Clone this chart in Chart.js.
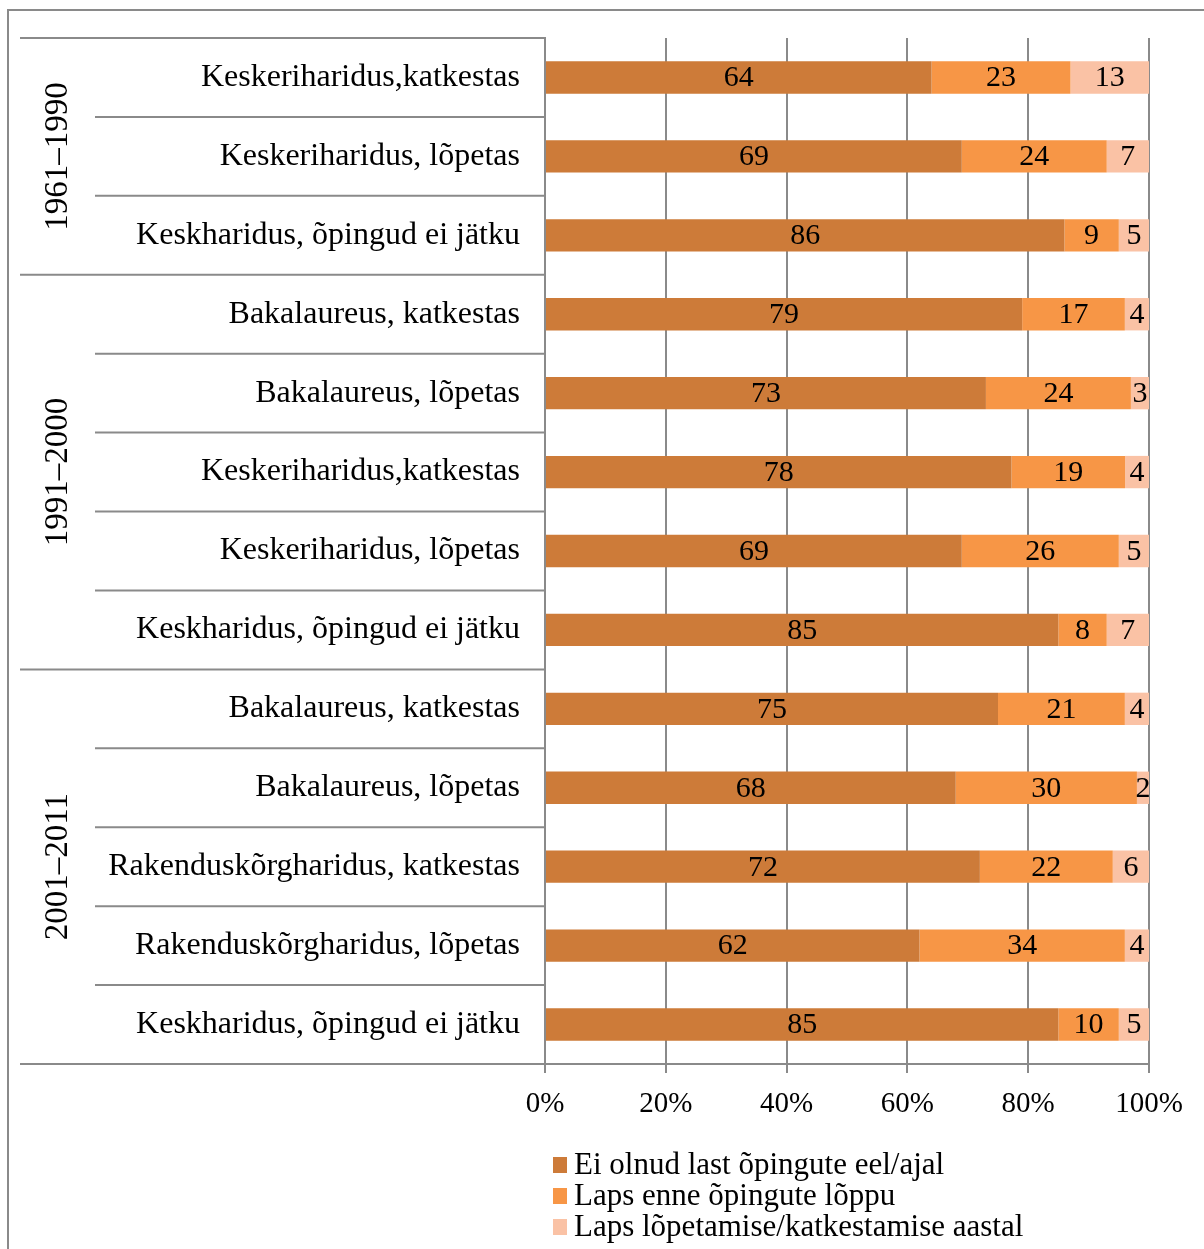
<!DOCTYPE html>
<html>
<head>
<meta charset="utf-8">
<script src="https://cdn.jsdelivr.net/npm/chart.js@4"></script>
<style>
  html, body { margin: 0; padding: 0; background: #fff; overflow: hidden; }
  #frame { position: absolute; left: 7px; top: 9px; width: 1300px; height: 1300px; border: 2px solid #8a8a8a; box-sizing: border-box; }
  #wrap { position: absolute; left: 0; top: 0; width: 1204px; height: 1249px; }
</style>
</head>
<body>
<div id="frame"></div>
<div id="wrap"><canvas id="chart" width="1204" height="1249"></canvas></div>
<script>
const groups = ['1961–1990', '1991–2000', '2001–2011'];
const groupSizes = [3, 5, 5];

const categories = [
  'Keskeriharidus,katkestas',
  'Keskeriharidus, lõpetas',
  'Keskharidus, õpingud ei jätku',
  'Bakalaureus, katkestas',
  'Bakalaureus, lõpetas',
  'Keskeriharidus,katkestas',
  'Keskeriharidus, lõpetas',
  'Keskharidus, õpingud ei jätku',
  'Bakalaureus, katkestas',
  'Bakalaureus, lõpetas',
  'Rakenduskõrgharidus, katkestas',
  'Rakenduskõrgharidus, lõpetas',
  'Keskharidus, õpingud ei jätku'
];

const seriesNames = [
  'Ei olnud last õpingute eel/ajal',
  'Laps enne õpingute lõppu',
  'Laps lõpetamise/katkestamise aastal'
];
const noChild = [64, 69, 86, 79, 73, 78, 69, 85, 75, 68, 72, 62, 85];
const childBefore = [23, 24, 9, 17, 24, 19, 26, 8, 21, 30, 22, 34, 10];
const childInYear = [13, 7, 5, 4, 3, 4, 5, 7, 4, 2, 6, 4, 5];
const xTicks = [0, 20, 40, 60, 80, 100];

const colors = ['#CD7B39', '#F79646', '#FAC2A5'];
const FONT = 'Liberation Serif';
const GRID = '#8a8a8a';

// 100% stacked: share of each row total
const totals = noChild.map((v, i) => v + childBefore[i] + childInYear[i]);
const share = arr => arr.map((v, i) => v / totals[i] * 100);
const raw = [noChild, childBefore, childInYear];

const labelPlugin = {
  id: 'extras',
  afterDatasetsDraw(chart) {
    const ctx = chart.ctx;
    ctx.save();
    ctx.fillStyle = '#000';
    ctx.font = '30px "' + FONT + '"';
    ctx.textAlign = 'center';
    ctx.textBaseline = 'middle';
    chart.data.datasets.forEach((ds, di) => {
      const meta = chart.getDatasetMeta(di);
      meta.data.forEach((bar, i) => {
        const cx = (bar.x + bar.base) / 2;
        ctx.fillText(String(raw[di][i]), cx, bar.y + 1);
      });
    });
    ctx.restore();
  },
  afterDraw(chart) {
    const ctx = chart.ctx;
    const y = chart.scales.y;
    const axisX = chart.chartArea.left;
    const n = categories.length;
    const bounds = [];
    bounds.push(chart.chartArea.top);
    for (let i = 0; i < n - 1; i++) {
      bounds.push((y.getPixelForValue(i) + y.getPixelForValue(i + 1)) / 2);
    }
    bounds.push(chart.chartArea.bottom);

    ctx.save();
    ctx.strokeStyle = GRID;
    ctx.lineWidth = 2;
    // group start indices
    const starts = [0];
    groupSizes.forEach((s, g) => starts.push(starts[g] + s));
    bounds.forEach((b, i) => {
      const isGroup = starts.includes(i);
      ctx.beginPath();
      ctx.moveTo(isGroup ? 20 : 95, b);
      ctx.lineTo(axisX, b);
      ctx.stroke();
    });

    // rotated group labels
    ctx.fillStyle = '#000';
    ctx.font = '33px "' + FONT + '"';
    ctx.textAlign = 'center';
    ctx.textBaseline = 'middle';
    groups.forEach((g, gi) => {
      const cy = (bounds[starts[gi]] + bounds[starts[gi + 1]]) / 2;
      ctx.save();
      ctx.translate(58, cy);
      ctx.rotate(-Math.PI / 2);
      ctx.fillText(g, 0, 0);
      ctx.restore();
    });

    // legend
    ctx.textAlign = 'left';
    ctx.font = '31px "' + FONT + '"';
    seriesNames.forEach((name, i) => {
      const cy = 1165 + i * 31;
      ctx.fillStyle = colors[i];
      ctx.fillRect(553, cy - 8, 14, 16);
      ctx.fillStyle = '#000';
      ctx.fillText(name, 574, cy + 1);
    });
    ctx.restore();
  }
};

new Chart(document.getElementById('chart'), {
  type: 'bar',
  data: {
    labels: categories,
    datasets: [
      { label: seriesNames[0], data: share(noChild), backgroundColor: colors[0] },
      { label: seriesNames[1], data: share(childBefore), backgroundColor: colors[1] },
      { label: seriesNames[2], data: share(childInYear), backgroundColor: colors[2] }
    ]
  },
  options: {
    indexAxis: 'y',
    responsive: false,
    animation: false,
    devicePixelRatio: 1,
    layout: { padding: { left: 0, top: 38, right: 55, bottom: 0 } },
    datasets: { bar: { barPercentage: 0.41, categoryPercentage: 1, borderWidth: 0 } },
    plugins: { legend: { display: false }, tooltip: { enabled: false } },
    scales: {
      x: {
        stacked: true,
        min: 0,
        max: 100,
        afterBuildTicks: s => { s.ticks = xTicks.map(v => ({ value: v })); },
        afterFit: s => { s.height = 185; },
        grid: { color: GRID, lineWidth: 2, tickLength: 9, drawOnChartArea: true },
        border: { color: GRID, width: 2 },
        ticks: {
          color: '#000',
          font: { family: FONT, size: 29 },
          padding: 14,
          callback: v => v + '%'
        }
      },
      y: {
        stacked: true,
        afterFit: s => { s.width = 545; },
        grid: { display: false },
        border: { color: GRID, width: 2 },
        ticks: {
          color: '#000',
          font: { family: FONT, size: 32 },
          padding: 17
        }
      }
    }
  },
  plugins: [labelPlugin]
});
</script>
</body>
</html>
